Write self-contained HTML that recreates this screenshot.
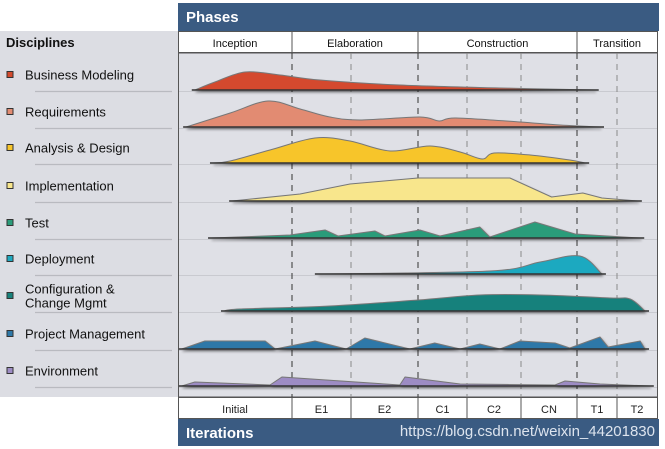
<!DOCTYPE html>
<html><head><meta charset="utf-8"><style>
body{margin:0;width:665px;height:449px;background:#fff;overflow:hidden;font-family:"Liberation Sans",sans-serif}
svg{position:absolute;left:0;top:0}
</style></head><body>
<svg width="665" height="449">
<defs><filter id="sh" x="-5%" y="-50%" width="110%" height="200%"><feDropShadow dx="1" dy="2" stdDeviation="1.2" flood-color="#000" flood-opacity="0.45"/></filter></defs>
<rect x="0" y="31" width="178" height="366" fill="#dcdde3"/>
<text x="6" y="47" font-size="13" font-weight="bold" fill="#111">Disciplines</text>
<rect x="178" y="3" width="481" height="28" fill="#3a5b82"/>
<text x="186" y="22" font-size="15" font-weight="bold" fill="#fff">Phases</text>
<rect x="178.5" y="31.5" width="479" height="21" fill="#fff" stroke="#555"/>
<rect x="178.5" y="53" width="479" height="344" fill="#dfe0e6" stroke="#555"/>
<rect x="178.5" y="397.5" width="479" height="21" fill="#fff" stroke="#555"/>
<rect x="178" y="419" width="481" height="27" fill="#3a5b82"/>
<text x="186" y="438" font-size="15" font-weight="bold" fill="#fff">Iterations</text>
<text x="655" y="436" font-size="15" fill="#dde4ee" text-anchor="end">https://blog.csdn.net/weixin_44201830</text>
<g id="g"></g>
</svg>
<script>
const iterBounds=[178,292,351,418,467,521,577,617,657];
const iterLabels=["Initial","E1","E2","C1","C2","CN","T1","T2"];
const phaseLabels=["Inception","Elaboration","Construction","Transition"];
const phaseBounds=[178,292,418,577,657];
const disciplines=["Business Modeling","Requirements","Analysis & Design","Implementation","Test","Deployment","Configuration &\nChange Mgmt","Project Management","Environment"];
const colors=["#d44a2e","#e28b72","#f7c52a","#f8e68c","#2b9c7a","#1fa9c0","#17817b","#2e78a8","#9d8cc4"];
const smoothFlags=[true,true,true,false,false,true,true,false,false];
// each series: [time (0-100), height]
const sBM=[[3.5,0],[7.7,8],[14,18],[21.3,15],[29.6,10],[46.3,5],[67.2,2],[87,0]];
const sReq=[[1.7,0],[10.9,14],[18.8,26],[25.5,18],[31.7,10],[38,7],[50.5,10],[54.5,6],[58,9],[71.4,5],[79.7,2],[88.1,0]];
const sAD=[[7.3,0],[10.9,2],[19.2,13],[28.6,25],[35.9,22],[44.3,12],[52.6,17],[58.9,11],[63.5,4],[66,10],[73.5,8],[81.8,3],[85,0]];
const sImp=[[11.3,0],[25.5,7],[35.9,17],[50.1,23],[69.3,23],[78,4],[84.5,8],[88.5,3],[96,0]];
const sTest=[[6.9,0],[23.4,3],[30.7,8],[33.4,2],[41.1,7],[43.2,2],[50.5,8],[54.7,2],[63,11],[65.1,1],[74.5,16],[82.9,4],[96.5,0]];
const sDep=[[29.2,0],[65.1,3],[75.6,12],[83.9,18],[88.5,0]];
const sCfg=[[9.6,0],[12.9,2],[31.7,5],[50.1,11],[63,16],[75.6,16],[90.2,13],[94.4,12],[97.5,0]];
const sPM=[[0.8,0],[5.6,8],[18.2,8],[20.3,0],[28.6,8],[35.1,0],[39,11],[48.4,0],[53.6,6],[58.9,0],[63,5],[67.2,0],[71.4,8],[78.7,6],[81.8,1],[88.1,12],[89.8,2],[96.5,8],[97.5,0]];
const sEnv=[[0.8,0],[3.5,4],[19.2,1],[21.7,9],[46.3,1],[47.4,9],[58.9,2],[78.7,1],[80.8,5],[88.1,2],[98.5,0]];
const series=[sBM,sReq,sAD,sImp,sTest,sDep,sCfg,sPM,sEnv];
const baselines=[90,127,163,201,238,274,311,349,386];
const NS="http://www.w3.org/2000/svg",g=document.getElementById('g');
function xs(t){return 178+t*4.79;}
function ys(i,h){return baselines[i]-h;}
function mk(tag,a){const e=document.createElementNS(NS,tag);for(const k in a)e.setAttribute(k,a[k]);g.appendChild(e);return e;}
baselines.forEach((b,i)=>{
 const l=mk('line',{x1:35,x2:172,y1:b+1.5,y2:b+1.5,stroke:'#b9bac0','stroke-width':1.2});
 
 
 const l2=mk('line',{x1:179,x2:657,y1:b+1.5,y2:b+1.5,stroke:'#c9cad0','stroke-width':1});
 
 
});
iterBounds.slice(1,-1).forEach(x=>{
 const major=phaseBounds.includes(x);
 const l=mk('line',{x1:x,x2:x,y1:53,y2:397,stroke:major?'#333':'#8a8a8a','stroke-width':1,'stroke-dasharray':'6,5'});
 
 
 const l2=mk('line',{x1:x,x2:x,y1:397,y2:419,stroke:'#555'});
 
 
});
phaseBounds.slice(1,-1).forEach(x=>{
 const l=mk('line',{x1:x,x2:x,y1:31,y2:53,stroke:'#555'});
 
 
});
phaseLabels.forEach((p,i)=>{
 const t=mk('text',{x:(phaseBounds[i]+phaseBounds[i+1])/2,y:47,'font-size':11,'text-anchor':'middle',fill:'#111'});
 t.textContent=p;
 
 
});
iterLabels.forEach((p,i)=>{
 const t=mk('text',{x:(iterBounds[i]+iterBounds[i+1])/2,y:413,'font-size':11,'text-anchor':'middle',fill:'#222'});
 t.textContent=p;
 
 
});
disciplines.forEach((d,i)=>{
 const lines=d.split('\n');const cy=baselines[i]-15;
 const sq=mk('rect',{x:7,y:cy-3.5,width:6,height:6,fill:colors[i],stroke:'#333','stroke-width':1});
 
 
 lines.forEach((ln,j)=>{
  const t=mk('text',{x:25,y:cy+4.5+(j-(lines.length-1)/2)*14,'font-size':13,fill:'#111'});
  t.textContent=ln;
  
  
 });
});
function smoothPath(P){
 let d='M'+P[0][0].toFixed(1)+','+P[0][1].toFixed(1);
 for(let k=0;k<P.length-1;k++){
  const p0=P[Math.max(k-1,0)],p1=P[k],p2=P[k+1],p3=P[Math.min(k+2,P.length-1)];
  const c1=[p1[0]+(p2[0]-p0[0])/6,p1[1]+(p2[1]-p0[1])/6];
  const c2=[p2[0]-(p3[0]-p1[0])/6,p2[1]-(p3[1]-p1[1])/6];
  d+=' C'+c1[0].toFixed(1)+','+c1[1].toFixed(1)+' '+c2[0].toFixed(1)+','+c2[1].toFixed(1)+' '+p2[0].toFixed(1)+','+p2[1].toFixed(1);
 }
 return d+' Z';
}
series.forEach((s,i)=>{
 const P=s.map(p=>[xs(p[0]),Math.min(ys(i,p[1]),baselines[i])]);
 let d;
 if(smoothFlags[i]) d=smoothPath(P);
 else {d='M'+P[0][0]+','+P[0][1];P.forEach(p=>{d+=' L'+p[0].toFixed(1)+','+p[1].toFixed(1);});d+=' Z';}
 const a=mk('path',{d:d,fill:colors[i],stroke:'#777','stroke-width':1,'stroke-linejoin':'round',filter:'url(#sh)'});
 
 
 const b=mk('line',{x1:xs(s[0][0])-3,x2:xs(s[s.length-1][0])+4,y1:baselines[i],y2:baselines[i],stroke:'#333','stroke-width':1.6});
 
 
});
</script>
</body></html>
